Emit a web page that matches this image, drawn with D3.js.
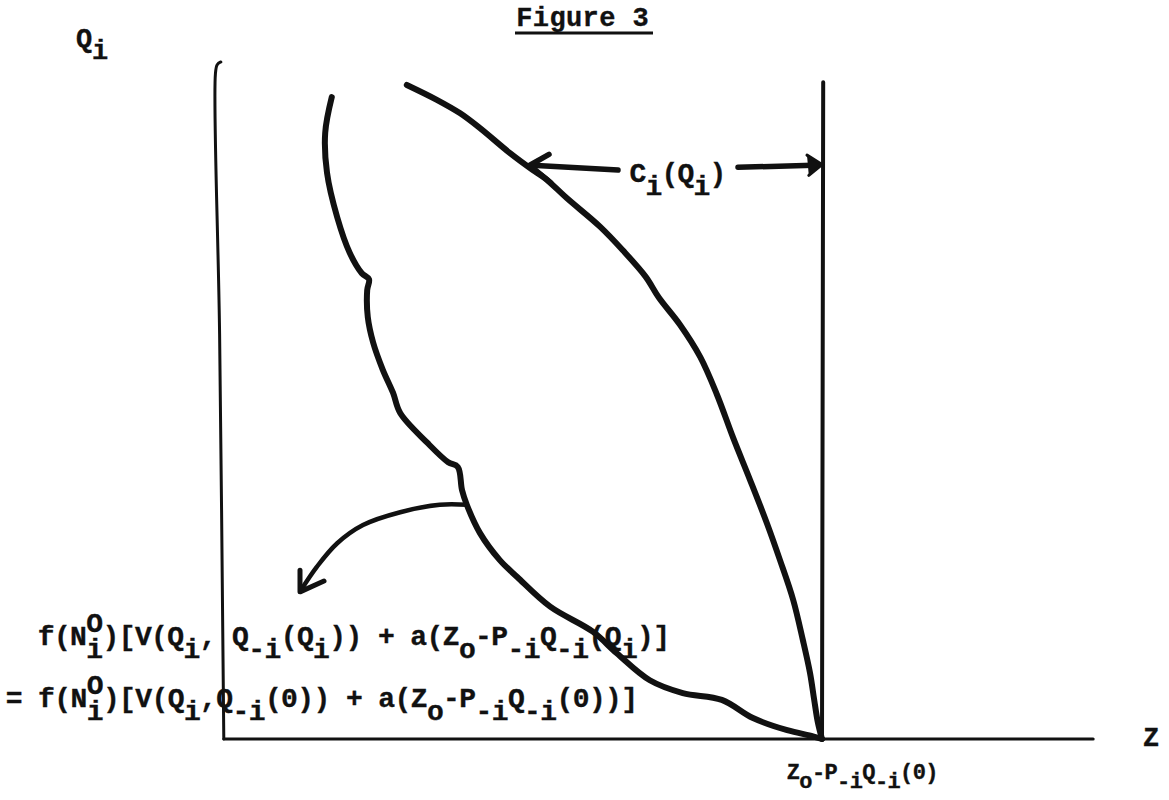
<!DOCTYPE html>
<html>
<head>
<meta charset="utf-8">
<script src="https://cdn.jsdelivr.net/npm/d3@7"></script>
<style>
  html, body { margin: 0; padding: 0; background: #fff; }
  svg { display: block; }
  .tw { font-family: "Liberation Mono", "DejaVu Sans Mono", monospace; font-weight: bold; fill: #111; stroke: #111; stroke-width: 0.35px; }
</style>
</head>
<body>
<svg id="fig" width="1169" height="800"></svg>
<script>
// Coordinates are [Z, Q_i]; Z is scaled so that Z_o - P_-i Q_-i(0) = 1.

// C_i(Q_i) frontier: runs from the top of the diagram down to Z_o - P_-i Q_-i(0)
const costFrontier = [
  [0.308, 0.969], [0.358, 0.947], [0.397, 0.927], [0.430, 0.905], [0.480, 0.868],
  [0.518, 0.843], [0.538, 0.831], [0.575, 0.801], [0.630, 0.759], [0.668, 0.724],
  [0.706, 0.685], [0.728, 0.654], [0.763, 0.614], [0.797, 0.566], [0.825, 0.510],
  [0.852, 0.446], [0.880, 0.384], [0.908, 0.320], [0.930, 0.265], [0.952, 0.206],
  [0.968, 0.147], [0.980, 0.098], [0.987, 0.058], [0.993, 0.025], [1.000, 0.000]
];

// Indifference locus f(N_i^O)[...] = f(N_i^O)[...]
const indifference = [
  [0.183, 0.951], [0.172, 0.898], [0.175, 0.839], [0.192, 0.773], [0.213, 0.720],
  [0.233, 0.690], [0.245, 0.681], [0.242, 0.665], [0.243, 0.625], [0.252, 0.587],
  [0.268, 0.547], [0.285, 0.513], [0.297, 0.483], [0.342, 0.439], [0.377, 0.410],
  [0.393, 0.403], [0.400, 0.369], [0.408, 0.347], [0.430, 0.305], [0.463, 0.265],
  [0.492, 0.240], [0.547, 0.196], [0.618, 0.159], [0.658, 0.127], [0.713, 0.087],
  [0.768, 0.068], [0.833, 0.058], [0.885, 0.031], [0.942, 0.013], [0.985, 0.004],
  [1.000, 0.000]
];

// Curved pointer from the locus to its equation
const pointer = [
  [0.408, 0.347], [0.363, 0.347], [0.297, 0.336], [0.235, 0.317],
  [0.192, 0.290], [0.158, 0.255], [0.132, 0.221]
];
const pointerHead = [[0.130, 0.250], [0.130, 0.218], [0.170, 0.234]];

// Double arrow marking the distance C_i(Q_i)
const costArrowLeft  = [[0.660, 0.843], [0.517, 0.850]];
const costHeadLeft   = [[0.545, 0.866], [0.513, 0.850], [0.548, 0.824]];
const costArrowRight = [[0.860, 0.847], [0.985, 0.850]];
const costHeadRight  = [[0.975, 0.865], [1.000, 0.851], [0.978, 0.835]];

// Axes and the vertical line at Z_o - P_-i Q_-i(0)
const qAxis = [[0.003, 0.000], [-0.004, 0.600], [-0.011, 0.985], [-0.008, 0.999], [-0.002, 1.003]];
const zAxis = [[0.003, 0.000], [1.452, 0.000]];
const zeroLine = [[1.000, 0.000], [1.002, 0.973]];

// Text
const titleText = "Figure 3";
const qLabel = "Q_{i}";
const zLabel = "Z";
const costLabel = "C_{i}(Q_{i})";
const baseLabel = "Z_{o}-P_{-i}Q_{-i}(0)";
const formulaLines = [
  "f(N_{i}^{O})[V(Q_{i}, Q_{-i}(Q_{i})) + a(Z_{o}-P_{-i}Q_{-i}(Q_{i})]",
  "= f(N_{i}^{O})[V(Q_{i},Q_{-i}(0)) + a(Z_{o}-P_{-i}Q_{-i}(0))]"
];

const svg = d3.select("#fig");
const x = d3.scaleLinear().domain([0, 1]).range([222, 822]);
const y = d3.scaleLinear().domain([0, 1]).range([739, 64]);

const smooth = d3.line().x(d => x(d[0])).y(d => y(d[1])).curve(d3.curveCatmullRom.alpha(0.5));
const straight = d3.line().x(d => x(d[0])).y(d => y(d[1]));

function stroke(data, width, gen = smooth, fill = "none") {
  svg.append("path")
    .attr("d", gen(data))
    .attr("fill", fill)
    .attr("stroke", "#111")
    .attr("stroke-width", width)
    .attr("stroke-linecap", "round")
    .attr("stroke-linejoin", "round");
}

// axes
stroke(qAxis, 3);
stroke(zAxis, 3, straight);
stroke(zeroLine, 4, straight);

// curves
stroke(costFrontier, 6);
stroke(indifference, 6);
stroke(pointer, 4.5);
stroke(pointerHead, 5, straight);

// cost arrows
stroke(costArrowLeft, 5.5, straight);
stroke(costHeadLeft, 5.5, straight);
stroke(costArrowRight, 5.5, straight);
stroke(costHeadRight, 3, straight, "#111");

// typewriter-style text: one glyph per cell, _{} lowers and ^{} raises a half line;
// a superscript right after a subscript is struck in the same cells
function typeLine(str, x0, baseline, cell, size, shift = 0.46) {
  const glyphs = [];
  let col = 0, i = 0, prevScript = false, scriptCol = 0;
  while (i < str.length) {
    const c = str[i];
    if (c === "_" || c === "^") {
      const dy = c === "_" ? size * shift : -size * shift;
      i++;
      let grp;
      if (str[i] === "{") { const j = str.indexOf("}", i); grp = str.slice(i + 1, j); i = j + 1; }
      else { grp = str[i]; i++; }
      const start = prevScript ? scriptCol : col;
      scriptCol = start;
      [...grp].forEach((ch, k) => glyphs.push({ ch, col: start + k, dy }));
      col = Math.max(col, start + grp.length);
      prevScript = true;
      continue;
    }
    if (c !== " ") glyphs.push({ ch: c, col, dy: 0 });
    col++; i++; prevScript = false;
  }
  const g = svg.append("g");
  g.selectAll("text").data(glyphs).join("text")
    .attr("class", "tw")
    .attr("x", d => x0 + d.col * cell + cell / 2)
    .attr("y", d => baseline + d.dy)
    .attr("text-anchor", "middle")
    .style("font-size", size + "px")
    .text(d => d.ch);
  return g;
}

// title with underline
typeLine(titleText, 516, 26, 16.6, 27);
svg.append("line").attr("x1", 515).attr("x2", 653).attr("y1", 33).attr("y2", 33)
  .attr("stroke", "#111").attr("stroke-width", 3);

typeLine(qLabel, 76, 47, 16, 27);
typeLine(zLabel, 1143, 746, 16, 27);
typeLine(costLabel, 630, 182, 16, 28);
typeLine(baseLabel, 787, 779, 12.6, 22, 0.42);
typeLine(formulaLines[0], 38, 645, 16.2, 28);
typeLine(formulaLines[1], 6, 707, 16.2, 28);
</script>
</body>
</html>
